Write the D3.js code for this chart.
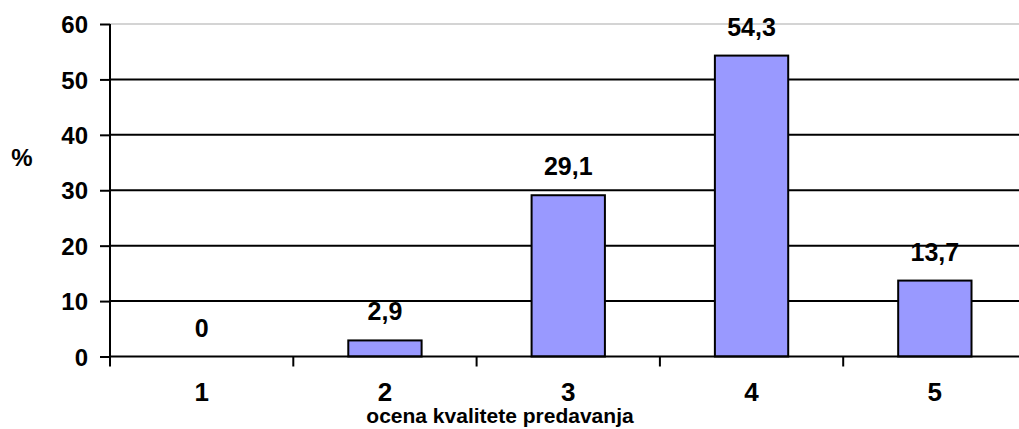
<!DOCTYPE html>
<html><head><meta charset="utf-8">
<script src="https://cdn.jsdelivr.net/npm/d3@7"></script>
<style>html,body{margin:0;padding:0;background:#fff;}svg{display:block;}text{font-family:"Liberation Sans",Arial,sans-serif;font-weight:bold;fill:#000;}</style>
</head><body>
<svg id="c" width="1019" height="429"></svg>
<script>
const categories = ["1","2","3","4","5"];
const values = [0, 2.9, 29.1, 54.3, 13.7];
const valueLabels = ["0","2,9","29,1","54,3","13,7"];
const yTicks = [0,10,20,30,40,50,60];
const xTitle = "ocena kvalitete predavanja";
const yTitle = "%";

const svg = d3.select("#c");
const x0 = 110, bandW = 183.3;
const x = d3.scaleBand().domain(categories).range([x0, x0 + bandW*categories.length]).padding(0);
const y = d3.scaleLinear().domain([0,60]).range([356.5, 24]);

// gridlines
svg.append("g").selectAll("line").data(yTicks.filter(d=>d>0)).join("line")
  .attr("x1", x0).attr("x2", 1019)
  .attr("y1", d=>y(d)).attr("y2", d=>y(d))
  .attr("stroke", d=> d===60 ? "#d4d4d4" : "#000")
  .attr("stroke-width", 2);

// bars
const bw = x.bandwidth()*0.4;
svg.append("g").selectAll("rect").data(values).join("rect")
  .attr("x", (d,i)=> x(categories[i]) + (x.bandwidth()-bw)/2)
  .attr("y", d=> y(d))
  .attr("width", bw)
  .attr("height", d=> y(0)-y(d))
  .attr("fill", "#9999ff")
  .attr("stroke", d=> d>0 ? "#000" : "none")
  .attr("stroke-width", 2);

// y axis
const yAxis = d3.axisLeft(y).tickValues(yTicks).tickSize(10).tickPadding(12).tickFormat(d3.format("d"));
const gy = svg.append("g").attr("transform", `translate(${x0},0)`).call(yAxis);
gy.select(".domain").remove();
gy.selectAll(".tick line").attr("stroke","#000").attr("stroke-width",2);
gy.selectAll(".tick text").attr("font-size", 24).attr("font-family", "Liberation Sans, Arial, sans-serif").attr("font-weight","bold").attr("dy","0.36em");
svg.append("line").attr("x1", x0).attr("x2", x0).attr("y1", y(60)).attr("y2", y(0)+10).attr("stroke","#000").attr("stroke-width",2);

// x axis
const xAxis = d3.axisBottom(x).tickSize(0).tickPadding(0);
const gx = svg.append("g").attr("transform", `translate(0,${y(0)})`).call(xAxis);
gx.select(".domain").remove();
gx.selectAll(".tick text").attr("font-size", 26).attr("font-family", "Liberation Sans, Arial, sans-serif").attr("font-weight","bold").attr("dy", null).attr("y", 44);
svg.append("line").attr("x1", x0).attr("x2", 1019).attr("y1", y(0)).attr("y2", y(0)).attr("stroke","#000").attr("stroke-width",2);
svg.append("g").selectAll("line").data(categories.slice(1).map((c,i)=> x(c))).join("line")
  .attr("x1", d=>d).attr("x2", d=>d).attr("y1", y(0)).attr("y2", y(0)+10)
  .attr("stroke","#000").attr("stroke-width",2);

// value labels
svg.append("g").selectAll("text").data(values).join("text")
  .attr("x", (d,i)=> x(categories[i]) + x.bandwidth()/2)
  .attr("y", d=> y(d) - 20)
  .attr("text-anchor","middle").attr("font-size", 25)
  .text((d,i)=> valueLabels[i]);

// titles
svg.append("text").attr("x", 500).attr("y", 423).attr("text-anchor","middle").attr("font-size", 21).text(xTitle);
svg.append("text").attr("x", 22).attr("y", 166).attr("text-anchor","middle").attr("font-size", 24).text(yTitle);
</script>
</body></html>
